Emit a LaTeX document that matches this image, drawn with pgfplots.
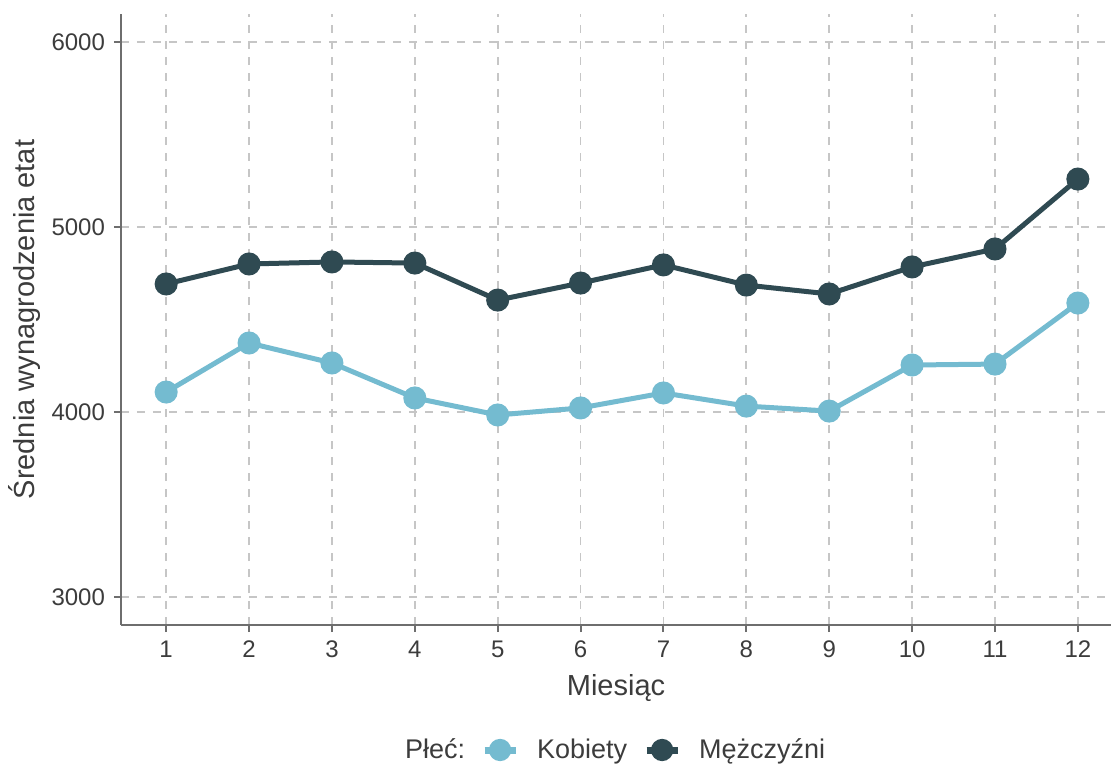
\documentclass[border=0pt]{standalone}
\usepackage{fontspec}
\setmainfont{Liberation Sans}
\usepackage{pgfplots}
\pgfplotsset{compat=1.18}
\definecolor{kob}{HTML}{74BBD0}
\definecolor{mez}{HTML}{2F4A52}
\definecolor{gridc}{HTML}{C6C6C6}
\definecolor{axc}{HTML}{6E6E6E}
\definecolor{txt}{HTML}{3C3C3C}
\begin{document}
\begin{tikzpicture}
\begin{axis}[
  at={(0,0)}, anchor=south west,
  scale only axis, width=495pt, height=305.5pt,
  xmin=0.455, xmax=12.4, ymin=2849, ymax=6151,
  xtick={1,...,12}, ytick={3000,4000,5000,6000},
  /pgf/number format/assume math mode=true,
  /pgf/number format/set thousands separator={},
  axis x line*=bottom, axis y line*=left,
  axis line style={axc, line width=1pt, -},
  tick style={axc, line width=1pt},
  tick align=outside, major tick length=3.5pt,
  grid=major,
  major grid style={gridc, line width=0.9pt, dash pattern=on 4pt off 4pt},
  ticklabel style={font=\fontsize{12}{14}\selectfont, text=txt},
  xticklabel style={yshift=-1pt},
  yticklabel style={xshift=-1pt},
  xlabel={Miesiąc}, ylabel={Średnia wynagrodzenia etat},
  label style={font=\fontsize{14.5}{17}\selectfont, text=txt},
  xlabel style={at={(axis description cs:0.5,-0.103)}, anchor=center},
  ylabel style={at={(axis description cs:-0.097,0.5)}, anchor=center},
  legend columns=-1,
  legend style={at={(axis description cs:0.492,0)}, anchor=center, yshift=-62.5pt,
    draw=none, fill=none, font=\fontsize{13.5}{16}\selectfont, text=txt,
    /tikz/every even column/.append style={column sep=6pt},
    /tikz/every odd column/.append style={column sep=7pt}},
  legend image code/.code={
    \draw[line width=3.5pt] (0pt,0pt) -- (15.5pt,0pt);
    \fill (7.75pt,0pt) circle (4.3pt);
  },
]
\addlegendimage{empty legend}
\addlegendentry{Płeć:}
\addplot[kob, line width=2.5pt, mark=*, mark size=4.5pt, mark options={solid}] coordinates {
(1,4108) (2,4373) (3,4265) (4,4076) (5,3984) (6,4022) (7,4103) (8,4032) (9,4005) (10,4254) (11,4259) (12,4589)};
\addlegendentry{Kobiety}
\addplot[mez, line width=2.5pt, mark=*, mark size=4.5pt, mark options={solid}] coordinates {
(1,4692) (2,4800) (3,4811) (4,4805) (5,4605) (6,4697) (7,4795) (8,4686) (9,4638) (10,4784) (11,4881) (12,5259)};
\addlegendentry{Mężczyźni}
\end{axis}
\pgfresetboundingbox
\path (-60.5pt,-70pt) rectangle (495pt,312.5pt);
\end{tikzpicture}
\end{document}
